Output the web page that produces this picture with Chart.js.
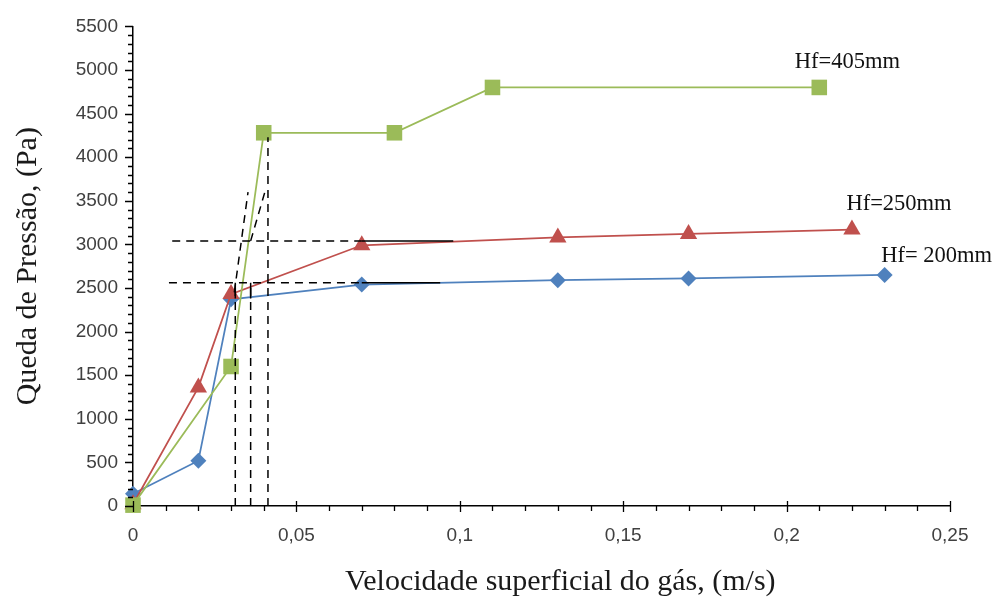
<!DOCTYPE html>
<html>
<head>
<meta charset="utf-8">
<script src="https://cdn.jsdelivr.net/npm/chart.js@4.4.0/dist/chart.umd.min.js"></script>
<style>
  html, body { margin: 0; padding: 0; background: #fff; }
  #wrap { width: 1000px; height: 604px; }
</style>
</head>
<body>
<div id="wrap"><canvas id="chart"></canvas></div>
<script>
// Velocity (m/s) and pressure drop (Pa) for each bed height
const velocity200 = [0, 0.02, 0.03, 0.07, 0.13, 0.17, 0.23];
const pressure200 = [140, 520, 2370, 2540, 2590, 2610, 2650];
const velocity250 = [0, 0.02, 0.03, 0.07, 0.13, 0.17, 0.22];
const pressure250 = [20, 1360, 2430, 2990, 3080, 3120, 3170];
const velocity405 = [0, 0.03, 0.04, 0.08, 0.11, 0.21];
const pressure405 = [10, 1600, 4280, 4280, 4800, 4800];

const seriesNames = ['Hf= 200mm', 'Hf=250mm', 'Hf=405mm'];

// guide lines drawn by hand on the original figure
const guideHighX = [0.012, 0.07];
const guideHighY = [3040, 3040];
const guideHighSolidX = [0.07, 0.098];
const guideLowX = [0.011, 0.07];
const guideLowY = [2560, 2560];
const guideLowSolidX = [0.07, 0.094];
const guideVertX = [0.0313, 0.036, 0.0413];
const guideVertTop = [2500, 2560, 4230];
const guideStubX = [0.0313, 0.036];
const guideStubY = [2380, 2560];
const tangentAX = [0.031, 0.0352];
const tangentAY = [2450, 3600];
const tangentBX = [0.036, 0.0405];
const tangentBY = [3040, 3620];

const xTicks = [0, 0.05, 0.1, 0.15, 0.2, 0.25];
const yMax = 5500;

const pts = (xs, ys) => xs.map((x, i) => ({ x: x, y: ys[i] }));

function guide(data, dashed) {
    return {
        data: data,
        showLine: true,
        borderColor: '#000',
        borderWidth: 1.5,
        borderDash: dashed ? [8, 6] : [],
        pointRadius: 0,
        order: 0
    };
}

const datasets = [
    {
        label: seriesNames[0],
        data: pts(velocity200, pressure200),
        borderColor: '#4F81BD',
        backgroundColor: '#4F81BD',
        pointStyle: 'rectRot',
        pointRadius: 8,
        order: 3
    },
    {
        label: seriesNames[1],
        data: pts(velocity250, pressure250),
        borderColor: '#C0504D',
        backgroundColor: '#C0504D',
        pointStyle: 'triangle',
        pointRadius: 10,
        order: 2
    },
    {
        label: seriesNames[2],
        data: pts(velocity405, pressure405),
        borderColor: '#9BBB59',
        backgroundColor: '#9BBB59',
        pointStyle: 'rect',
        pointRadius: 11,
        order: 1
    }
].map(d => Object.assign(d, { showLine: true, borderWidth: 1.75, pointBorderWidth: 0, clip: false }));

datasets.push(guide(pts(guideHighX, guideHighY), true));
datasets.push(guide(pts(guideHighSolidX, guideHighY), false));
datasets.push(guide(pts(guideLowX, guideLowY), true));
datasets.push(guide(pts(guideLowSolidX, guideLowY), false));
guideVertX.forEach((x, i) => {
    datasets.push(guide([{ x: x, y: 0 }, { x: x, y: guideVertTop[i] }], true));
});
guideStubX.forEach(x => {
    datasets.push(guide(pts([x, x], guideStubY), false));
});
datasets.push(guide(pts(tangentAX, tangentAY), true));
datasets.push(guide(pts(tangentBX, tangentBY), true));

// label anchors for the series names (data units)
const nameAnchorX = [0.2459, 0.2344, 0.2186];
const nameAnchorY = [2864, 3466, 5090];

const seriesLabels = {
    id: 'seriesLabels',
    afterDatasetsDraw(chart) {
        const ctx = chart.ctx;
        const xs = chart.scales.x, ys = chart.scales.y;
        ctx.save();
        ctx.font = '22.5px "Liberation Serif"';
        ctx.fillStyle = '#111';
        ctx.textAlign = 'center';
        ctx.textBaseline = 'middle';
        seriesNames.forEach((name, i) => {
            ctx.fillText(name, xs.getPixelForValue(nameAnchorX[i]), ys.getPixelForValue(nameAnchorY[i]));
        });
        ctx.restore();
    }
};

// major / minor tick marks like the original
const tickMarks = {
    id: 'tickMarks',
    afterDraw(chart) {
        const ctx = chart.ctx;
        const xs = chart.scales.x, ys = chart.scales.y;
        const x0 = xs.getPixelForValue(0), y0 = ys.getPixelForValue(0);
        ctx.save();
        ctx.strokeStyle = '#000';
        ctx.lineWidth = 1.3;
        ctx.beginPath();
        for (let v = 0; v <= yMax; v += 100) {
            const y = Math.round(ys.getPixelForValue(v)) + 0.5;
            ctx.moveTo(x0, y);
            ctx.lineTo(x0 - (v % 500 === 0 ? 8 : 5), y);
        }
        for (let k = 0; k <= 25; k++) {
            const x = Math.round(xs.getPixelForValue(k / 100)) + 0.5;
            if (k % 5 === 0) {
                ctx.moveTo(x, y0 - 5);
                ctx.lineTo(x, y0 + 6);
            } else {
                ctx.moveTo(x, y0);
                ctx.lineTo(x, y0 + 5);
            }
        }
        ctx.stroke();
        ctx.restore();
    }
};

new Chart(document.getElementById('chart'), {
    type: 'scatter',
    data: { datasets: datasets },
    plugins: [seriesLabels, tickMarks],
    options: {
        responsive: true,
        maintainAspectRatio: false,
        animation: false,
        layout: { padding: { top: 22, right: 50, left: 0, bottom: 0 } },
        plugins: {
            legend: { display: false },
            tooltip: { enabled: false }
        },
        scales: {
            x: {
                type: 'linear',
                min: 0,
                max: 0.25,
                afterFit: s => { s.height = 98; },
                afterBuildTicks: s => { s.ticks = xTicks.map(v => ({ value: v })); },
                grid: { drawOnChartArea: false, drawTicks: false },
                border: { color: '#000', width: 1.5 },
                ticks: {
                    padding: 18,
                    color: '#404040',
                    font: { family: '"Liberation Sans"', size: 19 },
                    callback: v => String(Number(v.toFixed(2))).replace('.', ',')
                },
                title: {
                    display: true,
                    // leading spaces nudge the centred title right, as in the original
                    text: '     Velocidade superficial do gás, (m/s)',
                    color: '#1a1a1a',
                    font: { family: '"Liberation Serif"', size: 30 },
                    padding: { top: 0, bottom: 4 }
                }
            },
            y: {
                min: 0,
                max: yMax,
                afterFit: s => { s.width = 133; },
                grid: { drawOnChartArea: false, drawTicks: false },
                border: { color: '#000', width: 1.5 },
                ticks: {
                    stepSize: 500,
                    padding: 15,
                    color: '#404040',
                    font: { family: '"Liberation Sans"', size: 19 },
                    callback: v => String(v)
                },
                title: {
                    display: true,
                    text: 'Queda de Pressão, (Pa)',
                    color: '#1a1a1a',
                    font: { family: '"Liberation Serif"', size: 30 },
                    padding: { top: 10, bottom: 0 }
                }
            }
        }
    }
});
</script>
</body>
</html>
